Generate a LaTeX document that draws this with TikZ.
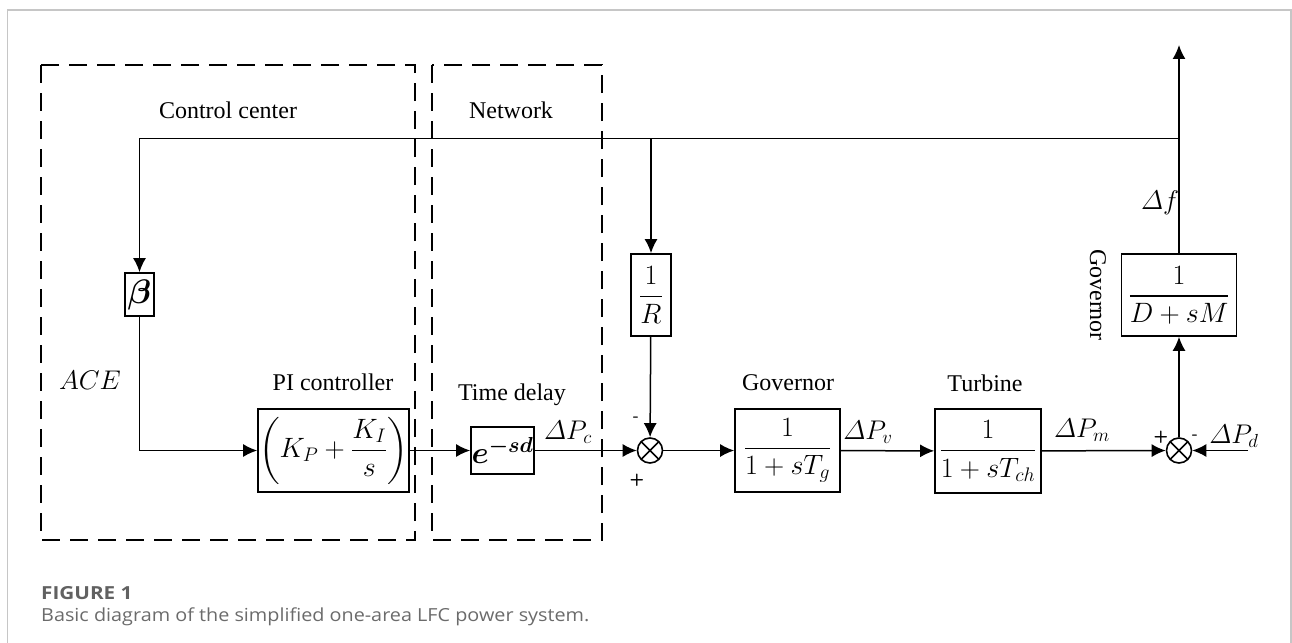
\RequirePackage{fix-cm}
\documentclass[tikz,border=0pt]{standalone}
\usepackage{amsmath,amssymb}
\usepackage[no-math]{fontspec}
\setmainfont{Liberation Serif}
\newfontfamily\capfont{Open Sans}
\usetikzlibrary{arrows.meta,calc}
\tikzset{
  blk/.style={draw, line width=1.7pt, inner sep=0pt, minimum width=#1, font=\fontsize{28}{32}\selectfont},
  sig/.style={line width=1.5pt},
  arr/.style={sig, -{Latex[length=14pt,width=13pt]}},
  dbox/.style={line width=2pt, dash pattern=on 18pt off 10pt},
  sumj/.style={circle, draw, line width=1.6pt, minimum size=25pt, inner sep=0pt,
    path picture={\draw[line width=1.6pt]
      (path picture bounding box.north west)--(path picture bounding box.south east)
      (path picture bounding box.north east)--(path picture bounding box.south west);}},
  lbl/.style={inner sep=0pt},
  mlbl/.style={inner sep=0pt, font=\fontsize{27}{30}\selectfont},
  pm/.style={inner sep=0pt, font=\fontsize{17}{19}\sffamily\bfseries},
  captxt/.style={anchor=base west, inner sep=0pt, font=\capfont\fontsize{18}{21}\selectfont},
}
\begin{document}
\begin{tikzpicture}[x=1pt,y=-1pt]
\useasboundingbox (0,0) rectangle (1292,642);
\fontsize{24}{28}\selectfont
% outer frame
\draw[gray!45, line width=1.3pt] (7.5,660) -- (7.5,10) -- (1291,10) -- (1291,660);
% dashed regions
\draw[dbox] (41,65) rectangle (415,540);
\draw[dbox] (432,65) rectangle (602,540);
\node[lbl] (lcc) at (228,110) {Control center};
\node[lbl] (lnw) at (511,110) {Network};
% blocks
\node[blk=29pt, minimum height=43pt, font=\fontsize{34}{36}\selectfont] (beta) at (139.5,294.5) {$\boldsymbol{\beta}$};
\node[blk=151pt, minimum height=83pt] (pi) at (333.5,450.5) {$\left(K_P+\dfrac{K_I}{s}\right)$};
\node[blk=63pt, minimum height=47pt, font=\fontsize{31}{34}\selectfont] (td) at (502.5,450.5) {$\boldsymbol{e^{-sd}}$};
\node[sumj] (s1) at (650,450.5) {};
\node[blk=40pt, minimum height=82pt] (invR) at (651,295) {$\dfrac{1}{R}$};
\node[blk=105pt, minimum height=83pt] (gov) at (787.5,450.5) {$\dfrac{1}{1+sT_g}$};
\node[blk=106pt, minimum height=84pt] (tur) at (988,451) {$\dfrac{1}{1+sT_{ch}}$};
\node[sumj] (s2) at (1179,450.5) {};
\node[blk=115pt, minimum height=82pt] (dsm) at (1179,295) {$\dfrac{1}{D+sM}$};
% coordinates
\coordinate (fbR) at (1179,138.5);
\coordinate (top) at (1179,45);
\coordinate (pd) at (1248,450.5);
% labels
\node[mlbl] (lace) at (90,380) {$ACE$};
\node[lbl] (lpi) at (333,382) {PI controller};
\node[lbl] (ltd) at (512,395) {Time delay};
\node[mlbl] (lpc) at (568,432) {$\varDelta P_c$};
\node[lbl] (lgov) at (788,383) {Governor};
\node[lbl] (ltur) at (985,383) {Turbine};
\node[mlbl] (lpv) at (868,432) {$\varDelta P_v$};
\node[mlbl] (lpm) at (1082,430) {$\varDelta P_m$};
\node[mlbl] (lpd) at (1234,436) {$\varDelta P_d$};
\node[mlbl] (ldf) at (1160,203) {$\varDelta f$};
\node[lbl, rotate=-90] (lgov2) at (1098,295) {Governor};
\node[pm] (m1) at (636,419) {-};
\node[pm] (p1) at (637,480) {+};
\node[pm] (p2) at (1161,437) {+};
\node[pm] (m2) at (1195,437) {-};
% connectors
\draw[arr] (fbR) -| (beta);
\draw[arr] (invR |- fbR) -- (invR);
\draw[arr] (invR) -- (s1);
\draw[arr] (beta) |- (pi);
\draw[arr] (pi) -- (td);
\draw[arr] (td) -- (s1);
\draw[arr] (s1) -- (gov);
\draw[arr] (gov) -- (tur);
\draw[arr] (tur) -- (s2);
\draw[arr] (pd) -- (s2);
\draw[arr] (s2) -- (dsm);
\draw[arr] (dsm) -- (top);
% caption
\node[captxt, text=black!62] (cap1) at (41,599) {\scalebox{1.15}[1]{\bfseries FIGURE 1}};
\node[captxt, text=black!58] (cap2) at (41,621) {\scalebox{1.1}[1]{Basic diagram of the simplified one-area LFC power system.}};
\end{tikzpicture}
\end{document}
